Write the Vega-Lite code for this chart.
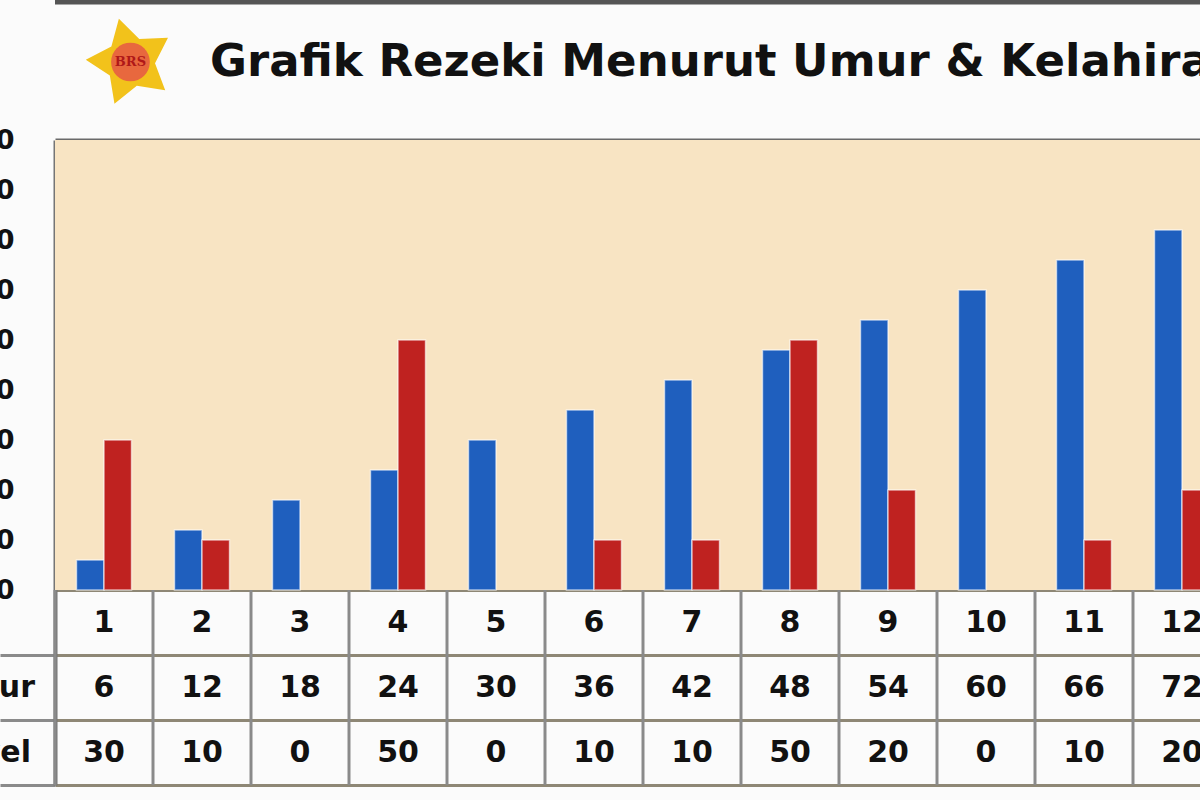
{
  "$schema": "https://vega.github.io/schema/vega-lite/v6.json",
  "autosize": {"type": "none"},
  "padding": {"left": 55, "top": 140, "right": 0, "bottom": 15},
  "width": 1145,
  "height": 645,
  "background": "#FBFBFB",
  "view": {"stroke": null},
  "title": {
    "text": "Grafik Rezeki Menurut Umur & Kelahiran",
    "anchor": "start",
    "frame": "group",
    "baseline": "alphabetic",
    "dx": 155,
    "dy": 121,
    "offset": 0,
    "font": "DejaVu Sans",
    "fontSize": 45,
    "fontWeight": "bold",
    "color": "#111111"
  },
  "data": {
    "values": [
      {"cat": 1, "Umur": 6, "Kel": 30},
      {"cat": 2, "Umur": 12, "Kel": 10},
      {"cat": 3, "Umur": 18, "Kel": 0},
      {"cat": 4, "Umur": 24, "Kel": 50},
      {"cat": 5, "Umur": 30, "Kel": 0},
      {"cat": 6, "Umur": 36, "Kel": 10},
      {"cat": 7, "Umur": 42, "Kel": 10},
      {"cat": 8, "Umur": 48, "Kel": 50},
      {"cat": 9, "Umur": 54, "Kel": 20},
      {"cat": 10, "Umur": 60, "Kel": 0},
      {"cat": 11, "Umur": 66, "Kel": 10},
      {"cat": 12, "Umur": 72, "Kel": 20}
    ]
  },
  "encoding": {
    "x": {
      "field": "cat",
      "type": "ordinal",
      "scale": {"paddingInner": 0, "paddingOuter": 0, "range": [0, 1176]},
      "axis": null
    }
  },
  "layer": [
    {
      "data": {"values": [{}]},
      "mark": {"type": "rect", "fill": "#F8E4C3"},
      "encoding": {
        "x": null,
        "y": {"datum": 0, "type": "quantitative"},
        "y2": {"datum": 90}
      }
    },
    {
      "transform": [{"fold": ["Umur", "Kel"], "as": ["key", "value"]}, {"filter": "datum.value > 0"}],
      "mark": {"type": "bar", "stroke": "#FFFFFF", "strokeWidth": 1.5, "strokeOpacity": 0.6},
      "encoding": {
        "y": {
          "field": "value",
          "type": "quantitative",
          "scale": {"domain": [-39, 90], "nice": false, "zero": false},
          "axis": {
            "title": null,
            "values": [90, 80, 70, 60, 50, 40, 30, 20, 10, 0, -13, -26, -39],
            "labelExpr": "datum.value >= 0 ? datum.label : ''",
            "labelFont": "DejaVu Sans",
            "labelFontSize": 27,
            "labelFontWeight": "bold",
            "labelColor": "#111111",
            "labelPadding": -14,
            "ticks": true,
            "tickSize": 55,
            "tickWidth": 3,
            "tickColor": {"condition": {"test": "datum.value < 0", "value": "#8A8A8A"}, "value": "transparent"},
            "grid": true,
            "gridColor": {"condition": {"test": "datum.value == 90", "value": "#6A6A6A"}, "value": "#8E8775"},
            "gridWidth": {"condition": {"test": "datum.value == 90", "value": 4}, "value": 3},
            "gridOpacity": 1,
            "domainColor": "#757575",
            "domainWidth": 4
          }
        },
        "xOffset": {
          "field": "key",
          "scale": {"domain": ["Umur", "Kel"], "paddingInner": 0, "paddingOuter": 0.78}
        },
        "color": {
          "field": "key",
          "type": "nominal",
          "scale": {"domain": ["Umur", "Kel"], "range": ["#1F5FBE", "#BF2220"]},
          "legend": null
        }
      }
    },
    {
      "mark": {"type": "rule", "color": "#8A8A8A", "strokeWidth": 3},
      "encoding": {
        "x": {"field": "cat", "type": "ordinal", "bandPosition": 0},
        "y": {"datum": 0},
        "y2": {"datum": -39}
      }
    },
    {
      "mark": {"type": "text", "font": "DejaVu Sans", "fontSize": 30, "fontWeight": "bold", "color": "#111111", "baseline": "middle"},
      "encoding": {"y": {"datum": -6.5}, "text": {"field": "cat"}}
    },
    {
      "mark": {"type": "text", "font": "DejaVu Sans", "fontSize": 30, "fontWeight": "bold", "color": "#111111", "baseline": "middle"},
      "encoding": {"y": {"datum": -19.5}, "text": {"field": "Umur"}}
    },
    {
      "mark": {"type": "text", "font": "DejaVu Sans", "fontSize": 30, "fontWeight": "bold", "color": "#111111", "baseline": "middle"},
      "encoding": {"y": {"datum": -32.5}, "text": {"field": "Kel"}}
    },
    {
      "data": {"values": [{}]},
      "mark": {"type": "text", "text": "Umur", "font": "DejaVu Sans", "fontSize": 30, "fontWeight": "bold", "color": "#111111", "baseline": "middle", "align": "right", "dx": -20},
      "encoding": {"x": {"datum": 1, "type": "ordinal", "bandPosition": 0}, "y": {"datum": -19.5}}
    },
    {
      "data": {"values": [{}]},
      "mark": {"type": "text", "text": "Level", "font": "DejaVu Sans", "fontSize": 30, "fontWeight": "bold", "color": "#111111", "baseline": "middle", "align": "right", "dx": -24},
      "encoding": {"x": {"datum": 1, "type": "ordinal", "bandPosition": 0}, "y": {"datum": -32.5}}
    },
    {
      "data": {"values": [{}]},
      "mark": {"type": "rule", "color": "#555555", "strokeWidth": 5},
      "encoding": {"x": null, "y": {"datum": 117.6}}
    },
    {
      "data": {"values": [{}]},
      "mark": {
        "type": "point",
        "filled": true,
        "fill": "#F2C21B",
        "opacity": 1,
        "size": 8000,
        "shape": "M-0.259,-0.966L0.197,-0.514L0.839,-0.545L0.549,0.029L0.777,0.629L0.142,0.531L-0.358,0.934L-0.461,0.3L-0.999,-0.052L-0.427,-0.346Z"
      },
      "encoding": {"x": {"datum": 1, "type": "ordinal", "bandPosition": 0.77}, "y": {"datum": 105.6}}
    },
    {
      "data": {"values": [{}]},
      "mark": {"type": "point", "filled": true, "fill": "#E8683E", "opacity": 1, "size": 1500, "shape": "circle"},
      "encoding": {"x": {"datum": 1, "type": "ordinal", "bandPosition": 0.77}, "y": {"datum": 105.6}}
    },
    {
      "data": {"values": [{}]},
      "mark": {"type": "text", "text": "BRS", "font": "DejaVu Serif", "fontSize": 13, "fontWeight": "bold", "color": "#B01818", "baseline": "middle"},
      "encoding": {"x": {"datum": 1, "type": "ordinal", "bandPosition": 0.77}, "y": {"datum": 105.6}}
    }
  ]
}
